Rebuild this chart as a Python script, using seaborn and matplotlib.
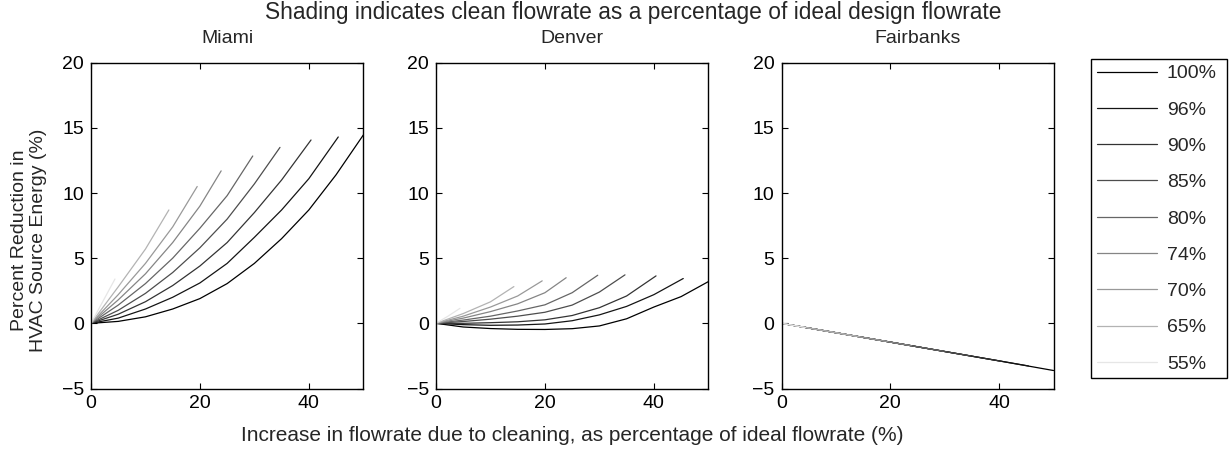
import matplotlib
matplotlib.use("Agg")
import matplotlib.pyplot as plt
import seaborn as sns
import pandas as pd

# Clean flowrate as a percentage of ideal design flowrate (one curve each)
clean_labels = ["100%", "96%", "90%", "85%", "80%", "74%", "70%", "65%", "55%"]
line_grays = ["0.0", "0.08", "0.2", "0.3", "0.4", "0.52", "0.6", "0.7", "0.9"]

cities = ["Miami", "Denver", "Fairbanks"]

# Flowrate increase (%) sample points for each curve
x_100 = [0, 5, 10, 15, 20, 25, 30, 35, 40, 45, 50]
x_96 = [0, 5, 10, 15, 20, 25, 30, 35, 40, 45.4]
x_90 = [0, 5, 10, 15, 20, 25, 30, 35, 40.4]
x_85 = [0, 5, 10, 15, 20, 25, 30, 34.7]
x_80 = [0, 5, 10, 15, 20, 25, 29.7]
x_74 = [0, 5, 10, 15, 20, 23.9]
x_70 = [0, 5, 10, 15, 19.5]
x_65 = [0, 5, 10, 14.3]
x_55 = [0, 2.2, 4.4]
x_by_curve = [x_100, x_96, x_90, x_85, x_80, x_74, x_70, x_65, x_55]

# Miami: percent reduction in HVAC source energy
miami_100 = [0, 0.15, 0.5, 1.1, 1.9, 3.05, 4.6, 6.5, 8.7, 11.4, 14.45]
miami_96 = [0, 0.4, 1.1, 2.0, 3.1, 4.6, 6.6, 8.7, 11.1, 14.3]
miami_90 = [0, 0.7, 1.66, 2.9, 4.4, 6.2, 8.5, 11.0, 14.07]
miami_85 = [0, 1.0, 2.3, 3.9, 5.8, 8.0, 10.7, 13.5]
miami_80 = [0, 1.4, 3.05, 5.0, 7.3, 9.8, 12.84]
miami_74 = [0, 1.8, 3.8, 6.2, 9.0, 11.7]
miami_70 = [0, 2.2, 4.6, 7.4, 10.5]
miami_65 = [0, 2.8, 5.7, 8.7]
miami_55 = [0, 1.7, 3.4]

# Denver
denver_100 = [0, -0.28, -0.4, -0.46, -0.47, -0.41, -0.2, 0.35, 1.25, 2.05, 3.2]
denver_96 = [0, -0.1, -0.15, -0.13, -0.05, 0.2, 0.65, 1.3, 2.2, 3.44]
denver_90 = [0, 0.0, 0.05, 0.12, 0.27, 0.6, 1.2, 2.1, 3.64]
denver_85 = [0, 0.14, 0.32, 0.55, 0.85, 1.4, 2.4, 3.72]
denver_80 = [0, 0.25, 0.55, 0.95, 1.42, 2.35, 3.69]
denver_74 = [0, 0.4, 0.9, 1.5, 2.35, 3.5]
denver_70 = [0, 0.55, 1.25, 2.1, 3.26]
denver_65 = [0, 0.75, 1.65, 2.82]
denver_55 = [0, 0.55, 1.15]

# Fairbanks
fairbanks_100 = [0, -0.36, -0.72, -1.08, -1.44, -1.8, -2.16, -2.52, -2.88, -3.25, -3.62]
fairbanks_96 = [0, -0.36, -0.72, -1.08, -1.44, -1.8, -2.16, -2.52, -2.88, -3.27]
fairbanks_90 = [0, -0.36, -0.72, -1.08, -1.44, -1.8, -2.16, -2.52, -2.91]
fairbanks_85 = [0, -0.36, -0.72, -1.08, -1.44, -1.8, -2.16, -2.5]
fairbanks_80 = [0, -0.36, -0.72, -1.08, -1.44, -1.8, -2.14]
fairbanks_74 = [0, -0.36, -0.72, -1.08, -1.44, -1.72]
fairbanks_70 = [0, -0.36, -0.72, -1.08, -1.4]
fairbanks_65 = [0, -0.36, -0.72, -1.03]
fairbanks_55 = [0, -0.16, -0.32]

y_by_city = {
    "Miami": [miami_100, miami_96, miami_90, miami_85, miami_80,
              miami_74, miami_70, miami_65, miami_55],
    "Denver": [denver_100, denver_96, denver_90, denver_85, denver_80,
               denver_74, denver_70, denver_65, denver_55],
    "Fairbanks": [fairbanks_100, fairbanks_96, fairbanks_90, fairbanks_85,
                  fairbanks_80, fairbanks_74, fairbanks_70, fairbanks_65,
                  fairbanks_55],
}

x_ticks = [0, 20, 40]
y_ticks = [-5, 0, 5, 10, 15, 20]

rows = []
for city in cities:
    for label, xs, ys in zip(clean_labels, x_by_curve, y_by_city[city]):
        for xv, yv in zip(xs, ys):
            rows.append({"city": city, "clean": label, "increase": xv, "reduction": yv})
df = pd.DataFrame(rows)

sns.set_style("ticks")
plt.rcParams["font.family"] = ["Liberation Sans", "DejaVu Sans"]
plt.rcParams["font.size"] = 14
plt.rcParams["axes.linewidth"] = 1.0
plt.rcParams["xtick.direction"] = "in"
plt.rcParams["ytick.direction"] = "in"
plt.rcParams["xtick.top"] = True
plt.rcParams["ytick.right"] = True

W, H = 1231, 449
fig = plt.figure(figsize=(W / 100, H / 100), dpi=100)
fig.patch.set_facecolor("white")

palette = dict(zip(clean_labels, line_grays))
ax_px = [(91, 363.3), (436, 708.3), (781.5, 1053.5)]
top_px, bot_px = 62.7, 388.5

axes = []
for city, (l, r) in zip(cities, ax_px):
    ax = fig.add_axes([l / W, 1 - bot_px / H, (r - l) / W, (bot_px - top_px) / H])
    sub = df[df["city"] == city]
    sns.lineplot(data=sub, x="increase", y="reduction", hue="clean",
                 hue_order=clean_labels, palette=palette, estimator=None,
                 sort=False, linewidth=0.9, ax=ax, legend=True)
    ax.set_xlim(0, 50)
    ax.set_ylim(-5, 20)
    ax.set_xticks(x_ticks)
    ax.set_yticks(y_ticks)
    ax.set_yticklabels(["\u22125" if t < 0 else str(t) for t in y_ticks])
    ax.tick_params(axis="both", which="both", length=4, width=0.8,
                   labelsize=14, colors="black", pad=5)
    for s in ax.spines.values():
        s.set_color("black")
        s.set_linewidth(1.0)
    ax.set_title(city, fontsize=14, pad=14)
    ax.set_xlabel("")
    ax.set_ylabel("")
    handles, labels = ax.get_legend_handles_labels()
    ax.get_legend().remove()
    axes.append(ax)

axes[0].set_ylabel("Percent Reduction in\nHVAC Source Energy (%)", fontsize=14,
                   linespacing=1.15)
axes[0].yaxis.set_label_coords(-0.16, 0.455)
axes[1].set_xlabel("Increase in flowrate due to cleaning, as percentage of ideal flowrate (%)",
                   fontsize=15, labelpad=10)

fig.text(633 / W, 1 - 13 / H,
         "Shading indicates clean flowrate as a percentage of ideal design flowrate",
         ha="center", va="center", fontsize=16.4)

leg = fig.legend(handles, labels, loc="upper left",
                 bbox_to_anchor=(1091 / W, 1 - 59 / H, (1227 - 1091) / W, 0.0),
                 mode="expand", frameon=True, fancybox=False, framealpha=1,
                 edgecolor="black", fontsize=14, handlelength=3.1,
                 handletextpad=0.5, labelspacing=0.96, borderpad=0.3,
                 borderaxespad=0)
leg.get_frame().set_linewidth(1.0)
for h in leg.get_lines():
    h.set_linewidth(0.9)

fig.savefig("out.png", dpi=100, facecolor="white")
